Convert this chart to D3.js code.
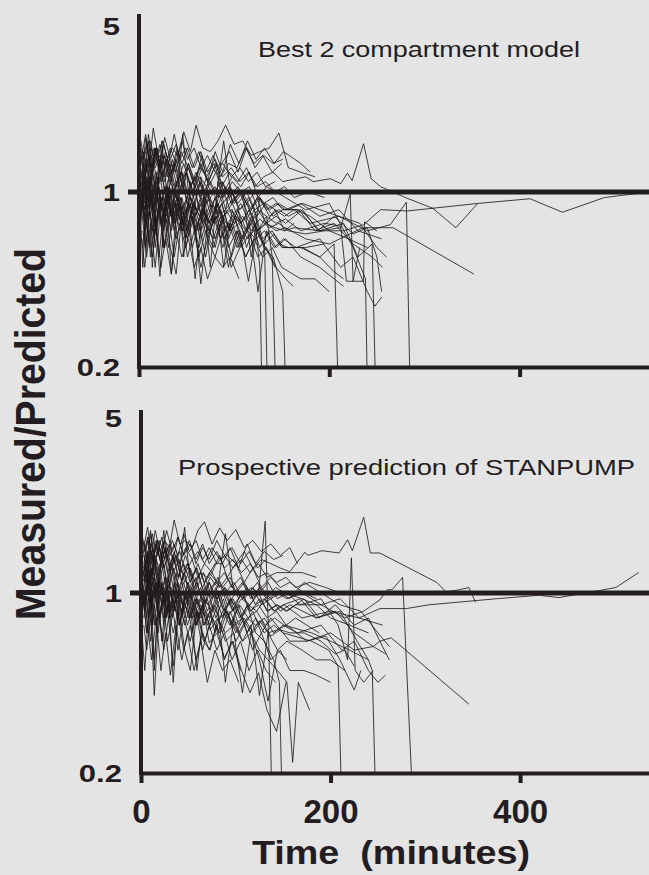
<!DOCTYPE html>
<html><head><meta charset="utf-8">
<script src="https://cdn.jsdelivr.net/npm/d3@7/dist/d3.min.js"></script>
<style>html,body{margin:0;padding:0;background:#e4e4e4;}svg{display:block;}</style>
</head><body>
<svg id="chart" width="649" height="875"></svg>
<script>
// ---------------- data ----------------
const xTicks = [0, 200, 400];
const yTicks = [0.2, 1, 5];
const xTitle = "Time  (minutes)";
const yTitle = "Measured/Predicted";
const topTitle = "Best 2 compartment model";
const bottomTitle = "Prospective prediction of STANPUMP";

// sampling schedules (minutes)
const schedules = [
  [2,5,9,13,17,22,27,32,38,44,50,57,64,71,79,87,95,104,113,122,131,141,151],
  [3,7,11,15,20,25,30,35,41,47,54,60,67,75,83,91,100,109,118,127,137,147,157],
  [2,6,10,14,19,24,29,34,40,46,52,59,66,73,81,89,98,107,116,125,134,144,154],
  [4,8,12,17,22,27,33,39,45,51,58,65,72,80,88,97,106,115,124,133,143,153,163],
  [1,4,7,11,16,21,26,31,37,43,49,56,63,70,78,86,94,103,112,121,130,140,150],
  [3,6,10,14,18,23,28,34,39,45,52,58,65,72,80,88,96,105,114,123,132,142,152]
];

// series: [schedule index, ratios on that schedule, later [time, ratio] samples]; ratio < 0.2 falls off the axis
const topSeries = [
  [0,[1.3,1.45,1.2,1.5,1.25,1.4,1.15,1.35,1.2,1.45,1.3,1.1,1.25,1.15,1.3,1.05,1.2,1.1,1.25,1.05,1.15,1.2,1.1],[[175,1.15],[183,1.1],[201,1.13],[212,1.08],[219,1.19],[224,1.11],[236,1.56],[244,1.13],[254,1.05],[280,0.95],[309,0.86],[333,0.72],[356,0.9]]],
  [1,[0.9,1.05,0.85,1.0,0.8,0.95,0.85,1.05,0.9,0.8,0.95,0.85,0.75,0.9,0.8,0.85,0.75,0.8,0.7,0.78,0.72,0.75,0.7],[[175,0.68],[195,0.7],[215,0.7],[236,0.74],[254,0.85],[282,0.84],[356,0.9],[411,0.94],[445,0.83],[489,0.95],[536,1.0]]],
  [2,[1.0,0.85,1.1,0.9,0.75,0.95,0.8,1.0,0.85,0.7,0.9,0.8,0.95,0.75,0.85,0.7,0.8,0.75,0.85,0.7,0.75,0.7,0.72],[[175,0.65],[200,0.62],[235,0.72],[267,0.72],[352,0.47]]],
  [3,[1.2,1.0,1.3,0.95,1.15,0.9,1.1,0.95,1.2,1.0,0.9,1.1,0.95,1.05,0.9,1.0,0.85,0.95,0.8,0.9,0.85,0.8,0.85],[[180,0.75],[210,0.8],[240,0.7],[264,0.74],[281,0.91],[286,0.1]]],
  [4,[0.7,0.9,0.6,0.85,0.65,0.9,0.7,1.0,0.75,0.9,0.65,0.85,0.7,0.95,0.75,0.85,0.65,0.8,0.7,0.85,0.65,0.7,0.6],[[170,0.6],[190,0.55],[205,0.62],[211,0.1]]],
  [1,[1.1,0.9,1.3,1.0,1.15,0.6,1.05,0.9,1.15,0.55,1.1,0.85,1.0,0.5,1.1,0.85,0.95,1.0,0.55,0.95,0.8,0.85,0.8],[[170,0.85],[190,0.7],[215,0.75],[230,0.55],[245,0.62],[250,0.1]]],
  [2,[1.4,1.15,1.6,1.2,1.45,1.1,1.35,1.2,1.5,1.15,1.3,1.05,1.25,1.1,1.3,1.0,1.15,1.05,1.2,0.95,1.05,1.0,0.95],[[175,0.85],[200,0.9],[225,0.6],[238,0.45],[241,0.1]]],
  [0,[0.8,1.2,0.7,1.0,0.6,0.9,0.75,1.05,0.8,0.95,0.7,0.9,0.65,1.0,0.8,0.9,0.7,0.85,0.6,0.75],[[127,0.5],[130,0.1]]],
  [5,[1.0,0.8,1.1,0.85,1.2,0.9,1.05,0.8,1.1,0.75,1.0,0.85,1.15,0.8,0.95,0.75,1.05,0.85,0.9,0.7],[[132,0.6],[136,0.1]]],
  [2,[1.5,1.2,1.7,1.3,1.5,1.15,1.35,1.1,1.45,1.0,1.3,1.1,1.4,1.05,1.2,0.95,1.1,1.0,1.05,0.85,0.8],[[140,0.55],[145,0.1]]],
  [0,[0.9,1.2,0.85,1.1,0.7,1.0,0.8,1.05,0.75,0.95,0.7,0.9,0.8,1.05,0.75,0.9,0.7,0.85,0.7,0.8,0.6,0.55,0.4],[[156,0.1]]],
  [1,[1.4,1.7,1.3,1.8,1.4,1.6,1.35,1.5,1.4,1.74,1.45,1.85,1.5,1.45,1.6,1.85,1.55,1.6,1.4,1.45,1.5,1.72,1.25],[[170,1.2],[185,1.15]]],
  [4,[0.9,0.5,0.8,0.6,0.9,0.55,0.85,0.6,0.9,0.7,0.8,0.6,0.75,0.55,0.8,0.65,0.75,0.6,0.7],[]],
  [3,[0.6,0.9,0.55,0.8,0.46,0.85,0.6,0.47,0.8,0.65,0.8,0.43,0.75,0.6,0.8,0.55,0.7,0.44,0.7,0.6,0.5],[]],
  [0,[1.1,1.3,1.0,1.25,1.05,1.35,1.1,1.3,1.05,1.2,1.0,1.1,0.95,1.15,1.0,1.1,0.95,1.05,0.9,1.0,0.9,0.95,0.85],[[165,0.85],[180,0.8],[200,0.7],[220,0.65],[240,0.6]]],
  [5,[1.3,1.1,1.4,1.2,1.5,1.25,1.45,1.2,1.35,1.1,1.25,1.05,1.3,1.1,1.45,1.2,1.55,1.3,1.6,1.35,1.5,1.3,1.45],[[170,1.3],[180,1.2]]],
  [2,[0.95,0.75,1.05,0.5,1.0,0.7,0.95,0.47,0.9,0.7,0.85,0.45,0.8,0.7,0.9,0.5,0.85,0.65,0.75,0.4,0.7,0.6,0.65],[[170,0.55],[190,0.5],[205,0.45],[215,0.42]]],
  [3,[1.2,0.95,1.15,0.9,1.3,1.0,1.2,0.85,1.1,0.9,1.05,0.8,1.0,0.85,1.1,0.9,1.0,0.8,0.95,0.75,0.85,0.7,0.75],[]],
  [0,[1.6,1.35,1.55,1.25,1.45,1.2,1.4,1.15,1.3,1.1,1.2,1.0,1.15,1.05,1.25,1.3,1.45,1.2,1.5,1.25,1.4,1.3,1.35],[]],
  [4,[0.8,1.0,0.7,0.95,0.75,1.05,0.8,1.0,0.7,0.9,0.65,0.8,0.6,0.75,0.65,0.8,0.6,0.7,0.55,0.65,0.55,0.6,0.5],[[170,0.45],[185,0.45],[200,0.4]]],
  [2,[1.0,1.15,0.9,1.2,0.95,1.6,1.0,1.3,1.05,1.7,1.0,1.15,0.9,1.05,0.95,1.6,0.9,1.0,0.85,0.95,0.85,0.9,0.85],[[170,0.9],[190,0.8],[210,0.85],[230,0.7],[255,0.65]]],
  [3,[0.7,0.55,0.75,0.5,0.8,0.6,0.85,0.65,0.8,0.55,0.7,0.5,0.65,0.55,0.7,0.5,0.6],[]],
  [0,[1.25,1.0,1.35,1.1,1.5,1.2,1.4,1.1,1.3,1.0,1.2,0.95,1.1,0.9,1.0,0.95,1.05,0.9,1.0,0.85,0.9,0.8,0.85],[[168,0.85],[185,0.7],[205,0.75],[225,0.62],[245,0.55],[256,0.5]]],
  [5,[0.85,1.05,0.8,1.0,0.7,0.95,0.75,0.9,0.7,0.95,0.75,0.9,0.7,0.8,0.65,0.8,0.7,0.75,0.65,0.72,0.62,0.68,0.6],[[175,0.6],[195,0.62]]],
  [2,[1.05,1.25,0.95,1.3,1.0,1.2,0.9,1.15,0.95,1.1,0.85,1.0,0.8,0.95,0.85,1.0,0.8,0.9,0.75,0.85,0.75,0.8,0.75],[[172,0.85],[188,0.7],[205,0.8],[225,0.68],[240,0.72],[250,0.55],[255,0.4]]],
  [3,[1.45,1.2,1.6,1.3,1.55,1.25,1.5,1.3,1.6,1.35,1.5,1.25,1.4,1.2,1.3,1.15,1.25,1.1,1.2,1.05,1.1],[]],
  [4,[0.75,0.95,0.6,0.85,0.65,0.9,0.6,0.8,0.55,0.75,0.6,0.8,0.55,0.7,0.6,0.75,0.5,0.7,0.55,0.65],[]],
  [1,[1.15,1.35,1.05,1.3,1.1,1.4,1.15,1.35,1.1,1.3,1.05,1.2,1.0,1.1,0.95,1.05,0.9,1.0,0.85,0.95,0.85,0.9,0.85],[[172,0.9],[190,0.85],[210,0.8],[232,0.75],[250,0.6],[260,0.55]]],
  [2,[0.9,0.65,0.95,0.7,1.0,0.75,1.05,0.8,0.95,0.75,0.9,0.7,0.85,0.68,0.8,0.65,0.75,0.6,0.68,0.55,0.6,0.5,0.45],[[162,0.42]]],
  [3,[1.35,1.55,1.25,1.5,1.3,1.65,1.35,1.55,1.3,1.5,1.25,1.45,1.2,1.35,1.15,1.25,1.1,1.2,1.05,1.1,1.0,1.05,0.95],[[178,1.0],[195,0.95]]],
  [5,[1.0,0.85,1.1,0.8,1.0,0.75,0.9,0.7,0.85,0.75,0.9,0.7,0.8,0.65,0.8,0.6,0.75,0.6,0.7,0.65,0.7,0.6,0.65],[[165,0.6],[190,0.65],[212,0.5],[225,0.55],[240,0.4],[248,0.35],[255,0.38]]],
  [1,[1.2,0.9,1.15,0.85,1.05,0.8,1.0,0.75,0.95,0.8,0.9,0.7,0.85,0.75,0.9,0.7,0.8,0.65,0.75,0.6,0.7,0.62,0.6],[[172,0.6],[190,0.55],[205,0.48],[215,0.45]]],
  [2,[1.1,0.9,1.2,0.95,1.1,0.85,1.0,0.8,0.95,0.85,1.0,0.8,0.9,0.75,0.85,0.8,0.9,0.75,0.85,0.7,0.8,0.75,0.78],[[170,0.7],[195,0.75],[212,0.73],[218,0.44],[236,0.44],[237,0.76],[250,0.7]]],
  [3,[0.95,1.15,0.9,1.1,0.85,1.05,0.8,1.0,0.85,0.95,0.8,0.9,0.75,0.95,0.8,0.85,0.75,0.8,0.7,0.75,0.72,0.7,0.72],[[190,0.7],[212,0.72],[222,0.98],[225,0.44],[232,0.6]]],
  [4,[1.5,1.25,1.65,1.3,1.5,1.2,1.55,1.3,1.7,1.35,1.5,1.25,1.45,1.2,1.4,1.15,1.3,1.25,1.5,1.3,1.4,1.2,1.3],[]],
  [5,[0.65,0.5,0.7,0.55,0.75,0.5,0.65,0.47,0.7,0.55,0.65,0.5,0.6,0.45,0.55,0.5,0.55,0.45],[]]
];

const bottomSeries = [
  [1,[1.3,1.6,1.3,1.55,1.35,1.6,1.4,1.55,1.3,1.5,1.35,1.45,1.3,1.5,1.35,1.4,1.3,1.45,1.25,1.35,1.3,1.25,1.21],[[173,1.44],[176,1.4],[191,1.46],[209,1.43],[218,1.61],[223,1.46],[235,1.97],[242,1.43],[252,1.43],[312,1.1],[322,1.01],[336,1.03],[346,1.05],[353,0.92]]],
  [0,[1.1,0.9,1.2,0.95,1.1,0.9,1.05,0.85,1.0,0.9,1.1,0.85,0.95,0.9,1.05,0.85,0.95,0.8,0.9,0.85,0.95,0.85,0.9],[[170,0.8],[200,0.85],[230,0.8],[252,0.87],[280,0.87],[304,0.9],[375,0.95],[420,0.98],[441,0.96],[476,1.01],[501,1.05],[525,1.2]]],
  [2,[0.9,1.1,0.85,1.05,0.8,1.0,0.8,0.95,0.75,0.9,0.8,0.95,0.75,0.85,0.7,0.85,0.75,0.8,0.7,0.78,0.7,0.72,0.75],[[175,0.65],[200,0.7],[225,0.6],[245,0.62],[252,0.65],[264,0.67],[346,0.37]]],
  [3,[1.3,1.05,1.4,1.1,1.3,1.0,1.2,0.95,1.1,0.9,1.05,0.95,1.1,0.9,1.0,0.85,0.95,0.9,1.0,0.85,0.9,0.85,0.9],[[190,0.9],[215,0.8],[235,0.85],[252,0.94],[260,1.03],[265,1.03],[276,1.15],[289,0.1]]],
  [4,[0.8,1.0,0.7,0.95,0.75,1.1,0.8,1.0,0.85,0.95,0.75,0.9,0.8,0.95,0.7,0.85,0.75,0.9,0.7,0.8,0.7,0.75,0.7],[[180,0.65],[198,0.6],[208,0.52],[213,0.1]]],
  [1,[1.2,1.0,1.45,1.1,1.3,0.9,1.25,1.0,1.2,0.95,1.1,0.9,1.05,0.95,1.1,0.9,1.0,0.95,1.05,0.9,0.95,0.85,0.9],[[185,0.8],[210,0.85],[228,0.65],[240,0.55],[244,0.5],[249,0.1]]],
  [2,[1.5,1.2,1.7,1.3,1.5,1.25,1.4,1.2,1.35,1.1,1.25,1.05,1.2,1.0,1.15,1.0,1.1,0.95,1.05,1.0,1.1,0.95,1.0],[[168,0.9],[190,0.95],[208,0.75],[218,0.55],[222,1.37],[226,0.5],[235,0.45],[245,0.5]]],
  [3,[0.85,1.3,0.75,1.1,0.65,1.0,0.8,1.1,0.85,1.0,0.75,0.9,0.8,1.0,0.85,0.95,0.8,0.9,1.0],[[131,1.9],[135,0.6],[139,0.1]]],
  [4,[1.1,0.85,1.2,0.9,1.35,1.0,1.15,0.85,1.2,0.8,1.1,0.9,1.05,0.85,1.0,0.8,0.95,0.75,0.9,0.7,0.65,0.55],[[146,0.45],[150,0.1]]],
  [1,[1.5,1.8,1.4,1.75,1.45,1.6,1.5,1.92,1.55,1.6,1.5,1.75,1.89,1.55,1.79,1.6,1.76,1.5,1.6,1.45,1.55,1.4,1.5],[[165,1.3]]],
  [2,[1.0,0.7,0.9,0.4,0.85,0.6,0.8,0.52,0.9,0.6,0.5,0.85,0.65,0.6,0.8,0.65,0.7,0.41,0.7,0.55,0.38,0.6,0.55],[]],
  [3,[1.0,0.8,1.1,0.9,1.05,0.85,0.95,0.8,0.9,0.85,0.75,0.9,0.64,0.7,0.56,0.65,0.5,0.41,0.49,0.35,0.29,0.45],[]],
  [5,[1.2,1.4,1.1,1.35,1.15,1.45,1.2,1.4,1.15,1.3,1.1,1.25,1.05,1.2,1.1,1.2,1.05,1.15,1.0,1.1,0.95,1.05,1.0],[[170,0.95],[185,0.9],[200,0.8],[220,0.75],[240,0.7]]],
  [1,[1.4,1.2,1.55,1.3,1.6,1.35,1.55,1.3,1.45,1.2,1.35,1.15,1.3,1.2,1.4,1.15,1.3,1.1,1.25,1.05,1.15,1.05,1.1],[[172,1.0],[185,0.95]]],
  [2,[1.05,0.8,1.15,0.5,1.1,0.75,1.0,0.45,0.95,0.75,0.9,0.5,0.85,0.75,0.9,0.45,0.8,0.65,0.75,0.4,0.7,0.6,0.65],[[170,0.6],[185,0.55],[200,0.55],[215,0.5]]],
  [3,[1.3,1.05,1.25,1.0,1.4,1.1,1.3,0.95,1.2,1.0,1.15,0.9,1.1,0.95,1.05,0.85,1.0,0.85,0.9,0.8,0.85,0.75,0.8],[[175,0.75],[188,0.7]]],
  [4,[1.7,1.45,1.65,1.35,1.55,1.3,1.5,1.25,1.4,1.2,1.3,1.1,1.2,1.15,1.3,1.3,1.5,1.25,1.55,1.3,1.45,1.35,1.4],[]],
  [1,[0.9,1.1,0.75,1.05,0.8,1.15,0.85,1.1,0.75,1.0,0.7,0.85,0.65,0.8,0.7,0.85,0.65,0.75,0.6,0.7,0.55,0.6,0.5],[[172,0.5],[185,0.48],[200,0.45]]],
  [2,[1.1,1.25,1.0,1.3,1.05,1.75,1.1,1.4,1.15,1.8,1.1,1.25,1.0,1.15,1.05,1.7,1.0,1.1,0.95,1.05,0.95,1.0,0.95],[[170,1.0],[190,0.9],[210,0.95],[230,0.8],[255,0.75]]],
  [5,[0.75,0.6,0.8,0.55,0.85,0.65,0.9,0.7,0.85,0.6,0.75,0.55,0.7,0.6,0.75,0.55,0.65,0.5],[]],
  [4,[1.35,1.1,1.45,1.2,1.6,1.3,1.5,1.2,1.4,1.1,1.3,1.05,1.2,1.0,1.1,1.05,1.15,0.95,1.05,0.9,0.95,0.85,0.9],[[168,0.95],[185,0.8],[205,0.85],[225,0.7],[245,0.62],[258,0.58]]],
  [1,[0.95,1.15,0.85,1.1,0.8,1.05,0.8,1.0,0.75,1.0,0.8,0.95,0.75,0.9,0.8,0.85,0.7,0.8,0.7,0.78,0.68,0.72,0.65],[[175,0.65],[195,0.68],[210,0.55],[225,0.42],[232,0.5]]],
  [2,[1.15,1.35,1.05,1.4,1.1,1.3,1.0,1.25,1.05,1.2,0.95,1.1,0.9,1.0,0.95,1.05,0.9,1.0,0.85,0.95,0.85,0.9,0.85],[[172,0.95],[188,0.8],[205,0.9],[225,0.75],[240,0.8],[252,0.65],[262,0.55]]],
  [3,[1.55,1.3,1.7,1.4,1.65,1.35,1.6,1.4,1.7,1.45,1.6,1.35,1.5,1.3,1.4,1.25,1.35,1.2,1.3,1.15,1.2],[[170,1.2],[185,1.15]]],
  [5,[0.8,1.0,0.65,0.9,0.7,0.95,0.65,0.85,0.6,0.8,0.65,0.85,0.6,0.75,0.6,0.7,0.55,0.65,0.5,0.6,0.5,0.45],[]],
  [1,[1.25,1.45,1.15,1.4,1.2,1.5,1.25,1.45,1.2,1.4,1.15,1.3,1.1,1.2,1.05,1.15,1.0,1.1,0.95,1.05,0.95,1.0,0.95],[[172,1.1],[190,1.0],[210,0.9],[232,0.85],[250,0.7],[262,0.62]]],
  [2,[1.0,0.7,1.05,0.75,1.1,0.8,1.15,0.85,1.05,0.8,1.0,0.75,0.9,0.72,0.8,0.7,0.75,0.65,0.7,0.6,0.55,0.5,0.45],[[160,0.22],[166,0.45],[178,0.35]]],
  [3,[1.45,1.65,1.35,1.6,1.4,1.75,1.45,1.65,1.4,1.6,1.35,1.55,1.3,1.45,1.25,1.35,1.2,1.3,1.15,1.2,1.1,1.15,1.05],[[178,1.1],[195,1.05],[210,1.0]]],
  [4,[1.1,0.95,1.2,0.9,1.1,0.85,1.0,0.8,0.95,0.85,1.0,0.8,0.9,0.75,0.9,0.7,0.85,0.7,0.8,0.75,0.8,0.7,0.75],[[165,0.7],[190,0.75],[212,0.6],[225,0.65],[240,0.5],[250,0.45],[258,0.48]]],
  [1,[1.3,1.0,1.25,0.95,1.15,0.9,1.1,0.85,1.0,0.9,1.05,0.8,0.95,0.85,1.0,0.8,0.9,0.75,0.85,0.7,0.8,0.72,0.7],[[172,0.7],[190,0.65],[205,0.58],[215,0.6],[225,0.52]]],
  [5,[1.6,1.3,1.75,1.4,1.6,1.3,1.5,1.35,1.65,1.4,1.55,1.3,1.5,1.35,1.6,1.4,1.5,1.3,1.45,1.25,1.35],[]],
  [4,[0.7,0.5,0.75,0.55,0.8,0.5,0.7,0.48,0.75,0.55,0.7,0.5,0.65,0.45,0.6,0.5,0.55,0.45],[]],
  [0,[0.95,1.2,0.9,1.15,0.85,1.1,0.8,1.05,0.9,1.0,0.8,0.95,0.85,1.0,0.8,0.95,0.75,0.9,0.8,0.85,0.75,0.8,0.75],[[180,0.7],[200,0.65],[220,0.6],[240,0.55]]]
];

// ---------------- drawing ----------------
const W = 649, H = 875;
const INK = "#231c21";
const FONT = "Liberation Sans, Arial, Helvetica, sans-serif";
const svg = d3.select("#chart");
svg.append("rect").attr("width", W).attr("height", H).attr("fill", "#e4e4e4");

function toPoints(s) {
  const times = schedules[s[0]];
  return s[1].map((v, i) => [times[i], v]).concat(s[2]);
}

function stretch(sel, factor) {
  sel.each(function () {
    const n = this.getComputedTextLength();
    d3.select(this).attr("textLength", n * factor).attr("lengthAdjust", "spacingAndGlyphs");
  });
}

function panel(series, opt) {
  const x = d3.scaleLinear().domain([0, 536]).range([opt.x0, 649]);
  const y = d3.scaleLog().domain([0.2, 5]).range([opt.yBottom, opt.yTop]);
  const g = svg.append("g");
  const id = "clip" + opt.id;
  svg.append("clipPath").attr("id", id).append("rect")
    .attr("x", opt.x0).attr("y", opt.yTop - 20).attr("width", W - opt.x0).attr("height", opt.yBottom - opt.yTop + 20);

  const line = d3.line().x(d => x(d[0])).y(d => y(d[1]));
  g.append("g").attr("clip-path", `url(#${id})`)
    .selectAll("path").data(series.map(toPoints)).join("path")
    .attr("d", line).attr("fill", "none")
    .attr("stroke", "#1d181c").attr("stroke-width", 0.9).attr("stroke-opacity", 0.92)
    .attr("stroke-linejoin", "miter");

  // x axis with ticks
  const xa = g.append("g").attr("transform", `translate(0,${opt.yBottom})`)
    .call(d3.axisBottom(x).tickValues(xTicks).tickSize(10).tickSizeOuter(0).tickFormat(opt.xLabels ? d3.format("d") : ""));
  xa.select(".domain").attr("stroke", INK).attr("stroke-width", 4);
  xa.selectAll(".tick line").attr("stroke", INK).attr("stroke-width", 4);
  xa.selectAll(".tick text").attr("fill", INK).attr("font-family", FONT)
    .attr("font-weight", "bold").attr("font-size", 33).attr("y", 50).attr("dy", 0);

  // y axis
  const ya = g.append("g").attr("transform", `translate(${opt.x0},0)`)
    .call(d3.axisLeft(y).tickValues(yTicks).tickSize(0).tickSizeOuter(0).tickPadding(0).tickFormat(d3.format("")));
  ya.select(".domain").remove();
  ya.append("line").attr("x1", 0).attr("x2", 0).attr("y1", opt.yTop - 3).attr("y2", opt.yBottom + 2)
    .attr("stroke", INK).attr("stroke-width", 4);
  const yt = ya.selectAll(".tick text").attr("fill", INK)
    .attr("font-family", FONT).attr("font-weight", "bold")
    .attr("font-size", 23).attr("x", -19).attr("dy", d => d === 5 ? opt.fiveShift : "0.36em")
    .attr("text-anchor", "end");
  stretch(yt, 1.35);

  // reference line at ratio 1
  g.append("line").attr("x1", opt.x0 - 11).attr("x2", W).attr("y1", y(1)).attr("y2", y(1))
    .attr("stroke", INK).attr("stroke-width", 5);

  // panel title
  g.append("text").attr("x", opt.titleX).attr("y", opt.titleY).text(opt.title)
    .attr("font-family", FONT).attr("font-size", 22).attr("fill", INK)
    .attr("textLength", opt.titleW).attr("lengthAdjust", "spacingAndGlyphs");
}

panel(topSeries, { id: "t", x0: 139, yTop: 17, yBottom: 367, xLabels: false, fiveShift: "0.75em",
  title: topTitle, titleX: 258, titleY: 57, titleW: 322 });
panel(bottomSeries, { id: "b", x0: 141, yTop: 413, yBottom: 773, xLabels: true, fiveShift: "0.6em",
  title: bottomTitle, titleX: 178, titleY: 475, titleW: 457 });

// axis titles
svg.append("text").attr("x", 391).attr("y", 864).attr("text-anchor", "middle").text(xTitle)
  .attr("font-family", FONT).attr("font-weight", "bold")
  .attr("font-size", 33).attr("fill", INK).attr("xml:space", "preserve")
  .attr("textLength", 278).attr("lengthAdjust", "spacingAndGlyphs");
svg.append("text").attr("transform", "translate(45,434) rotate(-90)").attr("text-anchor", "middle").text(yTitle)
  .attr("font-family", FONT).attr("font-weight", "bold")
  .attr("font-size", 42).attr("fill", INK)
  .attr("textLength", 372).attr("lengthAdjust", "spacingAndGlyphs");
</script>
</body></html>
